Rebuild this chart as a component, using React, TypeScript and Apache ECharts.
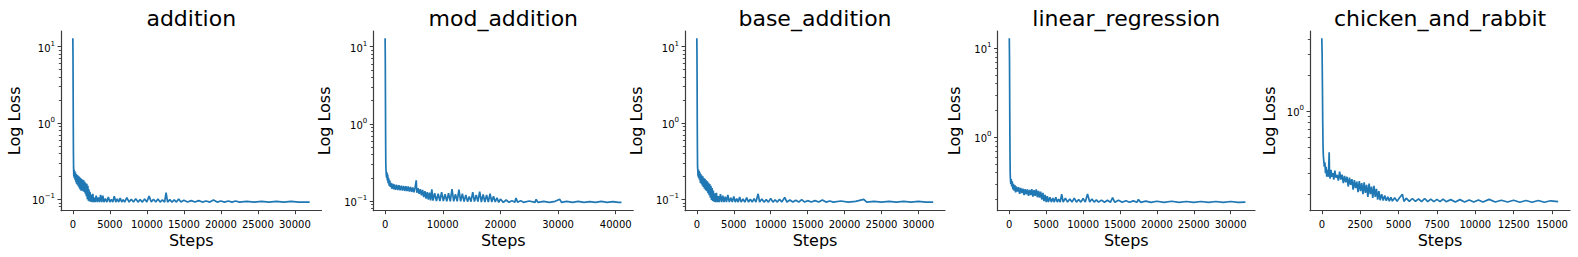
import React, { useEffect, useRef } from "react";
import * as echarts from "echarts";

// ---------- data (step, loss) ----------
const titles = ["addition", "mod_addition", "base_addition", "linear_regression", "chicken_and_rabbit"];

const additionLoss: [number, number][] = [
  [0, 12.9], [20, 8], [40, 3], [60, 0.9], [80, 0.4], [100, 0.26], [130, 0.2], [160, 0.245], [200, 0.19], [250, 0.235],
  [300, 0.18], [350, 0.225], [400, 0.17], [450, 0.215], [500, 0.16], [560, 0.21], [620, 0.155], [680, 0.205], [740, 0.148],
  [800, 0.2], [860, 0.142], [920, 0.195], [980, 0.135], [1050, 0.19], [1120, 0.13], [1190, 0.185], [1260, 0.13],
  [1330, 0.18], [1400, 0.128], [1470, 0.178], [1540, 0.125], [1610, 0.17], [1680, 0.118], [1750, 0.162], [1820, 0.11],
  [1890, 0.16], [1960, 0.1], [2030, 0.15], [2100, 0.096], [2170, 0.135], [2240, 0.094], [2320, 0.125], [2400, 0.093],
  [2500, 0.115], [2600, 0.092], [2700, 0.118], [2800, 0.092], [2900, 0.105], [3000, 0.092], [3150, 0.112], [3300, 0.092],
  [3450, 0.106], [3600, 0.092], [3750, 0.114], [3900, 0.092], [4050, 0.112], [4200, 0.092], [4400, 0.102], [4600, 0.092],
  [4800, 0.107], [5000, 0.092], [5200, 0.1], [5400, 0.092], [5600, 0.11], [5800, 0.092], [6000, 0.101], [6200, 0.092],
  [6400, 0.104], [6600, 0.092], [6800, 0.099], [7000, 0.092], [7300, 0.105], [7600, 0.092], [7900, 0.1], [8200, 0.092],
  [8500, 0.102], [8800, 0.092], [9100, 0.099], [9400, 0.092], [9700, 0.101], [10000, 0.092], [10300, 0.11], [10600, 0.092],
  [10900, 0.1], [11200, 0.092], [11500, 0.101], [11800, 0.092], [12100, 0.098], [12400, 0.092], [12600, 0.122],
  [12800, 0.092], [13100, 0.099], [13400, 0.092], [13700, 0.098], [14000, 0.092], [14300, 0.101], [14600, 0.092],
  [15000, 0.097], [15500, 0.092], [16000, 0.096], [16500, 0.092], [17000, 0.096], [17500, 0.092], [18000, 0.095],
  [18500, 0.092], [19000, 0.098], [19500, 0.092], [20000, 0.095], [20500, 0.092], [21000, 0.095], [21500, 0.092],
  [22000, 0.095], [22500, 0.092], [23500, 0.094], [24500, 0.092], [25500, 0.094], [26500, 0.092], [27500, 0.094],
  [28500, 0.092], [29500, 0.094], [30500, 0.092], [32000, 0.092],
];

const modAdditionLoss: [number, number][] = [
  [0, 12.9], [30, 7], [60, 2], [90, 0.6], [120, 0.3], [160, 0.25], [200, 0.22], [260, 0.2], [320, 0.235], [380, 0.185],
  [450, 0.22], [520, 0.17], [600, 0.2], [700, 0.158], [800, 0.185], [900, 0.152], [1000, 0.172], [1150, 0.145], [1300, 0.168],
  [1450, 0.142], [1600, 0.164], [1800, 0.14], [2000, 0.162], [2200, 0.139], [2400, 0.16], [2600, 0.138], [2800, 0.158],
  [3000, 0.137], [3200, 0.157], [3400, 0.135], [3600, 0.155], [3800, 0.134], [4000, 0.154], [4200, 0.132], [4400, 0.152],
  [4600, 0.131], [4800, 0.15], [5000, 0.13], [5200, 0.15], [5400, 0.185], [5500, 0.128], [5700, 0.147], [5900, 0.124],
  [6100, 0.142], [6300, 0.118], [6500, 0.139], [6700, 0.112], [6900, 0.134], [7100, 0.107], [7300, 0.13], [7500, 0.104],
  [7700, 0.128], [7900, 0.102], [8100, 0.142], [8300, 0.101], [8600, 0.126], [8900, 0.1], [9200, 0.124], [9500, 0.1],
  [9800, 0.13], [10100, 0.1], [10400, 0.122], [10700, 0.099], [11000, 0.126], [11300, 0.099], [11600, 0.142], [11900, 0.099],
  [12200, 0.122], [12500, 0.099], [12800, 0.14], [13100, 0.099], [13400, 0.124], [13700, 0.098], [14000, 0.12], [14300, 0.098],
  [14600, 0.114], [14900, 0.098], [15200, 0.13], [15500, 0.098], [15800, 0.12], [16100, 0.098], [16400, 0.132],
  [16700, 0.097], [17000, 0.122], [17300, 0.097], [17600, 0.12], [17900, 0.097], [18200, 0.124], [18500, 0.097],
  [18800, 0.115], [19100, 0.097], [19400, 0.11], [19700, 0.096], [20000, 0.106], [20500, 0.096], [21000, 0.103],
  [21500, 0.096], [22000, 0.101], [22500, 0.096], [22700, 0.109], [23000, 0.096], [23500, 0.101], [24000, 0.096],
  [25000, 0.1], [26000, 0.096], [26200, 0.105], [26500, 0.096], [27500, 0.099], [28500, 0.096], [29500, 0.099],
  [30300, 0.105], [30600, 0.096], [31500, 0.099], [32500, 0.096], [33500, 0.099], [34500, 0.096], [35500, 0.098],
  [36500, 0.096], [37500, 0.099], [38500, 0.096], [39500, 0.098], [40500, 0.096], [41000, 0.096],
];

const baseAdditionLoss: [number, number][] = [
  [0, 12.9], [20, 8], [40, 3.5], [60, 1], [80, 0.45], [100, 0.27], [130, 0.24], [170, 0.2], [210, 0.245], [260, 0.19],
  [310, 0.235], [360, 0.18], [420, 0.225], [480, 0.165], [540, 0.215], [600, 0.16], [670, 0.205], [740, 0.152], [810, 0.2],
  [880, 0.145], [950, 0.19], [1030, 0.138], [1110, 0.185], [1190, 0.132], [1270, 0.178], [1350, 0.128], [1430, 0.172],
  [1510, 0.12], [1590, 0.165], [1670, 0.113], [1750, 0.158], [1830, 0.105], [1910, 0.15], [1990, 0.098], [2070, 0.14],
  [2150, 0.095], [2230, 0.13], [2320, 0.093], [2420, 0.12], [2520, 0.092], [2650, 0.122], [2780, 0.092], [2910, 0.11],
  [3040, 0.092], [3200, 0.117], [3360, 0.092], [3520, 0.112], [3680, 0.092], [3850, 0.108], [4020, 0.092], [4200, 0.114],
  [4400, 0.092], [4600, 0.105], [4800, 0.092], [5000, 0.109], [5200, 0.092], [5400, 0.102], [5600, 0.092], [5800, 0.107],
  [6000, 0.092], [6250, 0.101], [6500, 0.092], [6750, 0.105], [7000, 0.092], [7250, 0.1], [7500, 0.092], [7750, 0.102],
  [8000, 0.092], [8300, 0.118], [8500, 0.092], [8800, 0.101], [9100, 0.092], [9400, 0.099], [9700, 0.092], [10000, 0.103],
  [10300, 0.092], [10600, 0.098], [10900, 0.092], [11200, 0.1], [11500, 0.092], [11900, 0.106], [12200, 0.092],
  [12600, 0.098], [13000, 0.092], [13400, 0.097], [13800, 0.092], [14200, 0.099], [14600, 0.092], [15000, 0.096],
  [15500, 0.092], [16000, 0.096], [16500, 0.092], [17000, 0.098], [17500, 0.092], [18000, 0.095], [18500, 0.092],
  [19500, 0.095], [20500, 0.092], [21500, 0.094], [22600, 0.1], [23000, 0.092], [24000, 0.094], [25000, 0.092],
  [26000, 0.094], [27000, 0.092], [28000, 0.094], [29000, 0.092], [30000, 0.094], [31000, 0.092], [32000, 0.092],
];

const linearRegressionLoss: [number, number][] = [
  [0, 12.9], [30, 7], [60, 2], [90, 0.7], [120, 0.4], [150, 0.34], [200, 0.3], [260, 0.34], [320, 0.28], [400, 0.32],
  [480, 0.26], [560, 0.3], [650, 0.252], [750, 0.29], [850, 0.24], [950, 0.28], [1100, 0.245], [1250, 0.275], [1400, 0.232],
  [1550, 0.27], [1700, 0.236], [1850, 0.265], [2000, 0.224], [2150, 0.262], [2300, 0.228], [2450, 0.26], [2600, 0.22],
  [2750, 0.256], [2900, 0.224], [3050, 0.262], [3200, 0.216], [3350, 0.254], [3500, 0.22], [3650, 0.26], [3800, 0.212],
  [3950, 0.25], [4100, 0.21], [4250, 0.245], [4400, 0.2], [4550, 0.238], [4700, 0.192], [4850, 0.225], [5000, 0.187],
  [5150, 0.218], [5300, 0.187], [5500, 0.212], [5700, 0.187], [5900, 0.207], [6100, 0.187], [6300, 0.212], [6500, 0.187],
  [6700, 0.202], [6900, 0.187], [7100, 0.23], [7300, 0.187], [7600, 0.207], [7900, 0.187], [8200, 0.202], [8500, 0.187],
  [8800, 0.207], [9100, 0.187], [9400, 0.2], [9700, 0.187], [10000, 0.205], [10300, 0.187], [10600, 0.23],
  [10900, 0.187], [11200, 0.202], [11500, 0.187], [11800, 0.198], [12100, 0.187], [12500, 0.197], [12900, 0.186],
  [13300, 0.196], [13700, 0.186], [14000, 0.21], [14300, 0.186], [14800, 0.196], [15300, 0.186], [15800, 0.194],
  [16300, 0.186], [16800, 0.193], [17300, 0.186], [17500, 0.2], [17800, 0.186], [18500, 0.192], [19200, 0.186],
  [20000, 0.191], [21000, 0.186], [22000, 0.191], [23000, 0.186], [24000, 0.19], [25000, 0.186], [26000, 0.19],
  [27000, 0.186], [28000, 0.19], [29000, 0.186], [30000, 0.19], [31000, 0.186], [32000, 0.187],
];

const chickenRabbitLoss: [number, number][] = [
  [0, 4.08], [20, 3], [40, 1.6], [60, 0.8], [80, 0.5], [100, 0.42], [130, 0.38], [160, 0.34], [200, 0.37], [240, 0.3],
  [280, 0.34], [320, 0.28], [360, 0.32], [400, 0.28], [440, 0.31], [480, 0.45], [500, 0.3], [540, 0.27], [600, 0.32],
  [660, 0.28], [720, 0.3], [780, 0.265], [850, 0.315], [920, 0.275], [1000, 0.29], [1080, 0.26], [1160, 0.31],
  [1240, 0.265], [1320, 0.292], [1400, 0.248], [1480, 0.285], [1560, 0.252], [1640, 0.28], [1720, 0.232], [1800, 0.275],
  [1880, 0.24], [1960, 0.268], [2040, 0.218], [2120, 0.262], [2200, 0.225], [2280, 0.255], [2360, 0.208], [2440, 0.258],
  [2520, 0.212], [2600, 0.248], [2680, 0.2], [2760, 0.252], [2840, 0.205], [2920, 0.24], [3000, 0.19], [3080, 0.245],
  [3160, 0.2], [3240, 0.232], [3320, 0.186], [3400, 0.235], [3480, 0.19], [3560, 0.222], [3640, 0.18], [3720, 0.212],
  [3800, 0.178], [3900, 0.2], [4000, 0.177], [4100, 0.195], [4200, 0.176], [4300, 0.19], [4400, 0.175], [4500, 0.188],
  [4600, 0.175], [4750, 0.187], [4900, 0.174], [5050, 0.186], [5250, 0.2], [5350, 0.174], [5500, 0.185], [5700, 0.174],
  [5900, 0.184], [6100, 0.174], [6300, 0.183], [6500, 0.173], [6700, 0.184], [6900, 0.173], [7100, 0.182], [7300, 0.173],
  [7500, 0.181], [7700, 0.173], [7900, 0.182], [8100, 0.173], [8400, 0.18], [8700, 0.172], [9000, 0.18], [9300, 0.172],
  [9600, 0.179], [9900, 0.172], [10200, 0.179], [10500, 0.172], [10900, 0.181], [11300, 0.172], [11700, 0.178],
  [12100, 0.172], [12500, 0.178], [12900, 0.171], [13300, 0.177], [13700, 0.171], [14100, 0.177], [14500, 0.171],
  [14900, 0.176], [15400, 0.173],
];

// tick values
const stepTicks30k = [0, 5000, 10000, 15000, 20000, 25000, 30000];
const stepTicks40k = [0, 10000, 20000, 30000, 40000];
const stepTicks15k = [0, 2500, 5000, 7500, 10000, 12500, 15000];
const majorTicksWide = [0.1, 1, 10];
const majorTicksLR = [1, 10];
const majorTicksCR = [1];
const minorTicksWide = [0.08, 0.09, 0.2, 0.3, 0.4, 0.5, 0.6, 0.7, 0.8, 0.9, 2, 3, 4, 5, 6, 7, 8, 9];
const minorTicksLR = [0.2, 0.3, 0.4, 0.5, 0.6, 0.7, 0.8, 0.9, 2, 3, 4, 5, 6, 7, 8, 9];
const minorTicksCR = [0.2, 0.3, 0.4, 0.5, 0.6, 0.7, 0.8, 0.9, 2, 3, 4];

const FONT = "DejaVu Sans";
const AXIS_COLOR = "#3c3c3c";
const LINE_COLOR = "#1f77b4";

const panels = [
  { data: additionLoss, left: 61, width: 260.5, xMin: -1600, xMax: 33600, xTicks: stepTicks30k, yMin: 0.0709, yMax: 16.06, major: majorTicksWide, minor: minorTicksWide, nameGap: 38.5 },
  { data: modAdditionLoss, left: 373.3, width: 260, xMin: -2050, xMax: 43050, xTicks: stepTicks40k, yMin: 0.0748, yMax: 15.98, major: majorTicksWide, minor: minorTicksWide, nameGap: 40.8 },
  { data: baseAdditionLoss, left: 685, width: 260, xMin: -1600, xMax: 33600, xTicks: stepTicks30k, yMin: 0.0709, yMax: 16.06, major: majorTicksWide, minor: minorTicksWide, nameGap: 40.2 },
  { data: linearRegressionLoss, left: 997.5, width: 257.5, xMin: -1600, xMax: 33300, xTicks: stepTicks30k, yMin: 0.1497, yMax: 15.6, major: majorTicksLR, minor: minorTicksLR, nameGap: 35.2 },
  { data: chickenRabbitLoss, left: 1310, width: 260, xMin: -770, xMax: 16170, xTicks: stepTicks15k, yMin: 0.1453, yMax: 4.7, major: majorTicksCR, minor: minorTicksCR, nameGap: 32.5 },
];

const GRID_TOP = 31;
const GRID_HEIGHT = 179.7;

function powLabel(v: number): string {
  const e = Math.round(Math.log10(v));
  const s = e < 0 ? "\u2212" + String(-e) : String(e);
  return "{b|10}{s|" + s + "}";
}

export default function App() {
  const ref = useRef<HTMLDivElement>(null);
  useEffect(() => {
    document.body.style.margin = "0";
    if (!ref.current) return;
    const chart = echarts.init(ref.current, undefined, { renderer: "svg" });

    const grid: any[] = [];
    const xAxis: any[] = [];
    const yAxis: any[] = [];
    const series: any[] = [];
    const graphic: any[] = [];

    panels.forEach((p, i) => {
      grid.push({ left: p.left, top: GRID_TOP, width: p.width, height: GRID_HEIGHT, containLabel: false, outerBoundsMode: "none" });
      xAxis.push({
        type: "value",
        gridIndex: i,
        min: p.xMin,
        max: p.xMax,
        name: "Steps",
        nameLocation: "middle",
        nameGap: 21.5,
        nameMoveOverlap: false,
        nameTextStyle: { fontFamily: FONT, fontSize: 16, color: "#000" },
        axisLine: { show: true, onZero: false, lineStyle: { color: AXIS_COLOR, width: 1.2 } },
        axisTick: { show: true, length: 3.5, customValues: p.xTicks, lineStyle: { color: AXIS_COLOR, width: 1 } },
        axisLabel: {
          show: true,
          customValues: p.xTicks,
          margin: 9,
          hideOverlap: false,
          formatter: (v: number) => String(v),
          fontFamily: FONT,
          fontSize: 10,
          color: "#000",
        },
        splitLine: { show: false },
      });
      yAxis.push({
        type: "log",
        logBase: 10,
        gridIndex: i,
        position: "left",
        min: p.yMin,
        max: p.yMax,
        name: "Log Loss",
        nameLocation: "middle",
        nameGap: p.nameGap,
        nameMoveOverlap: false,
        nameTextStyle: { fontFamily: FONT, fontSize: 16, color: "#000" },
        axisLine: { show: true, onZero: false, lineStyle: { color: AXIS_COLOR, width: 1.2 } },
        axisTick: { show: true, length: 3.5, customValues: p.major, lineStyle: { color: AXIS_COLOR, width: 1 } },
        axisLabel: {
          show: true,
          customValues: p.major,
          margin: 6,
          formatter: (v: number) => powLabel(v),
          rich: {
            b: { fontFamily: FONT, fontSize: 10, color: "#000", padding: [3, 0, 0, 0] },
            s: { fontFamily: FONT, fontSize: 7, color: "#000", verticalAlign: "top" },
          },
        },
        splitLine: { show: false },
      });
      yAxis.push({
        type: "log",
        logBase: 10,
        gridIndex: i,
        position: "left",
        offset: 0,
        min: p.yMin,
        max: p.yMax,
        axisLine: { show: true, onZero: false, lineStyle: { color: AXIS_COLOR, width: 1.2, opacity: 0 } },
        axisTick: { show: true, length: 2.2, customValues: p.minor, lineStyle: { color: AXIS_COLOR, width: 0.9 } },
        axisLabel: { show: false, customValues: p.minor },
        splitLine: { show: false },
      });
      series.push({
        type: "line",
        xAxisIndex: i,
        yAxisIndex: 2 * i,
        data: p.data,
        showSymbol: false,
        symbol: "none",
        lineStyle: { color: LINE_COLOR, width: 1.7 },
        silent: true,
      });
      graphic.push({
        type: "text",
        x: p.left + p.width / 2,
        y: 18,
        style: {
          text: titles[i],
          fontFamily: FONT,
          fontSize: 22,
          fill: "#000",
          textAlign: "center",
          textVerticalAlign: "middle",
        },
      });
    });

    chart.setOption({
      animation: false,
      backgroundColor: "#fff",
      grid,
      xAxis,
      yAxis,
      series,
      graphic,
    });
    return () => chart.dispose();
  }, []);

  return <div ref={ref} style={{ width: 1578, height: 257 }} />;
}
